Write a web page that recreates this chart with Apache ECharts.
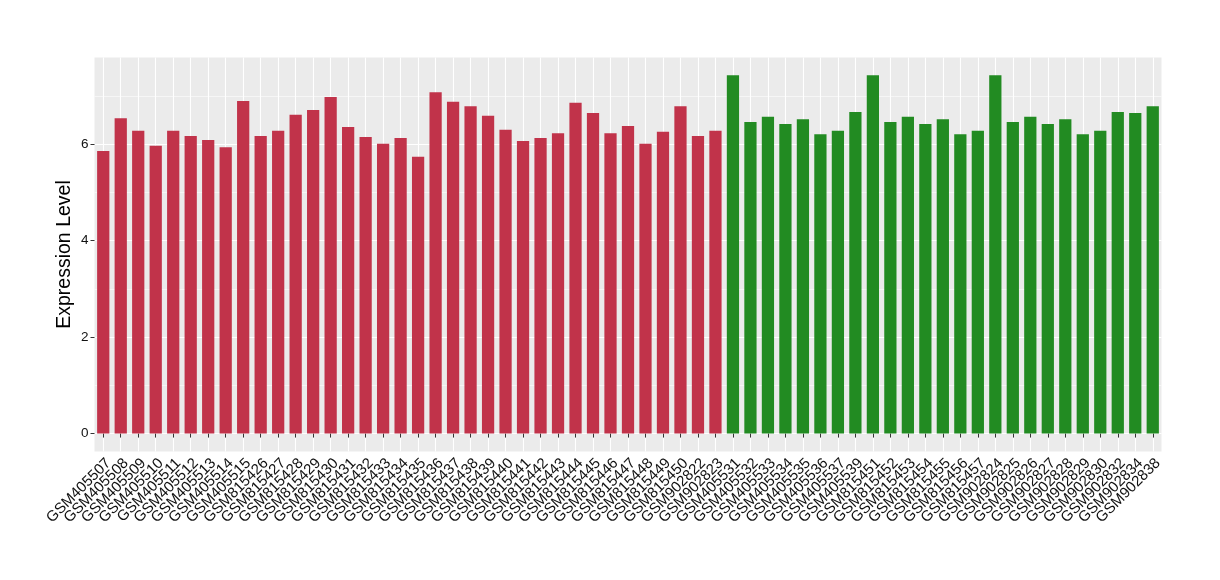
<!DOCTYPE html>
<html>
<head>
<meta charset="utf-8">
<script src="https://cdn.jsdelivr.net/npm/echarts@6/dist/echarts.min.js"></script>
<style>
html,body{margin:0;padding:0;background:#fff;}
#chart{width:1220px;height:580px;}
</style>
</head>
<body>
<div id="chart"></div>
<script>
const redCategories = ["GSM405507","GSM405508","GSM405509","GSM405510","GSM405511","GSM405512","GSM405513","GSM405514","GSM405515","GSM815426","GSM815427","GSM815428","GSM815429","GSM815430","GSM815431","GSM815432","GSM815433","GSM815434","GSM815435","GSM815436","GSM815437","GSM815438","GSM815439","GSM815440","GSM815441","GSM815442","GSM815443","GSM815444","GSM815445","GSM815446","GSM815447","GSM815448","GSM815449","GSM815450","GSM902822","GSM902823"];
const redValues = [5.86,6.54,6.28,5.97,6.28,6.17,6.09,5.94,6.90,6.17,6.28,6.61,6.71,6.98,6.36,6.15,6.01,6.13,5.74,7.08,6.88,6.79,6.59,6.30,6.07,6.13,6.23,6.86,6.65,6.23,6.38,6.01,6.26,6.79,6.17,6.28];
const greenCategories = ["GSM405531","GSM405532","GSM405533","GSM405534","GSM405535","GSM405536","GSM405537","GSM405539","GSM815451","GSM815452","GSM815453","GSM815454","GSM815455","GSM815456","GSM815457","GSM902824","GSM902825","GSM902826","GSM902827","GSM902828","GSM902829","GSM902830","GSM902832","GSM902834","GSM902838"];
const greenValues = [7.43,6.46,6.57,6.42,6.52,6.21,6.28,6.67,7.43,6.46,6.57,6.42,6.52,6.21,6.28,7.43,6.46,6.57,6.42,6.52,6.21,6.28,6.67,6.65,6.79];
const yTicks = [0,2,4,6];
const yMinorTicks = [1,3,5,7];
const yRange = [-0.372, 7.80];

const redColor = '#C1334A';
const greenColor = '#228B22';

const categories = redCategories.concat(greenCategories);
const barData = redValues.map(v => ({value: v, itemStyle: {color: redColor}}))
  .concat(greenValues.map(v => ({value: v, itemStyle: {color: greenColor}})));
const catPositions = categories.map((c, i) => i + 1);

const chart = echarts.init(document.getElementById('chart'), null, {renderer: 'canvas'});
const textFont = 'Liberation Sans, Arial, Helvetica, sans-serif';
chart.setOption({
  animation: false,
  backgroundColor: '#fff',
  grid: {left: 94.5, top: 57.5, width: 1067, height: 394, show: true, backgroundColor: '#EBEBEB', borderWidth: 0},
  xAxis: [{
    type: 'category',
    data: categories,
    axisLine: {show: false},
    axisTick: {show: true, alignWithLabel: true, interval: 0, length: 4, lineStyle: {color: '#333', width: 1}},
    axisLabel: {interval: 0, rotate: 45, fontSize: 15, color: '#111', fontFamily: textFont, margin: 4, verticalAlign: 'top', align: 'right'},
    splitLine: {show: false}
  }, {
    type: 'value',
    min: 0.5, max: categories.length + 0.5,
    position: 'bottom',
    axisLine: {show: false},
    axisLabel: {show: false},
    axisTick: {show: false, customValues: catPositions},
    splitLine: {show: true, lineStyle: {color: '#fff', width: 1.1}}
  }],
  yAxis: [{
    type: 'value',
    min: yRange[0], max: yRange[1],
    name: 'Expression Level',
    nameLocation: 'middle',
    nameGap: 20,
    nameMoveOverlap: false,
    nameTextStyle: {fontSize: 19.5, color: '#000', fontFamily: textFont},
    axisLine: {show: false},
    axisTick: {show: true, length: 4, customValues: yTicks, lineStyle: {color: '#333', width: 1}},
    axisLabel: {customValues: yTicks, fontSize: 13.5, color: '#111', fontFamily: textFont, margin: 6},
    splitLine: {show: true, lineStyle: {color: '#fff', width: 1.1}}
  }, {
    type: 'value',
    min: yRange[0], max: yRange[1],
    position: 'left',
    axisLine: {show: false},
    axisLabel: {show: false},
    axisTick: {show: false, customValues: yMinorTicks},
    splitLine: {show: true, lineStyle: {color: '#fff', width: 0.55}}
  }],
  series: [{
    type: 'bar',
    xAxisIndex: 0,
    yAxisIndex: 0,
    data: barData,
    barWidth: '70%',
    z: 5
  }]
});
</script>
</body>
</html>
